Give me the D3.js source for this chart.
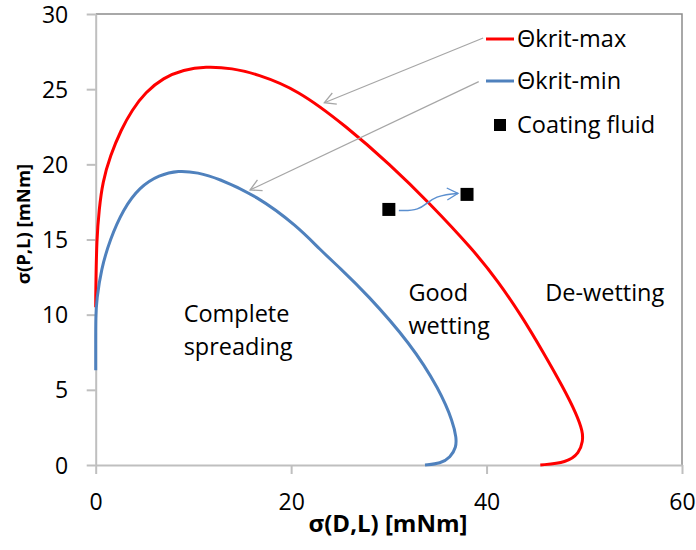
<!DOCTYPE html>
<html lang="en">
<head>
  <meta charset="UTF-8">
  <script src="https://d3js.org/d3.v7.min.js"></script>
  <title>Wetting envelope</title>
  <style>
  body {
      margin: 0;
      background: white;
  }
  svg text {
      font-family: "Open Sans", "Noto Sans", sans-serif;
      fill: #000;
  }
  .axis path, .axis line {
      stroke: #bfbfbf;
      stroke-width: 2;
  }
  .axis .tick text {
      font-size: 23px;
  }
  .region {
      font-size: 23.5px;
  }
  .legend text {
      font-size: 23.5px;
  }
  .title {
      font-weight: bold;
  }
  </style>
</head>
<body>

<svg id="chart" width="696" height="550"></svg>

<script>

  // values  (sigma D,L  /  sigma P,L  in mNm)
  const maxX = [0, 0, 0.02, 0.1, 0.35, 0.7, 1.5, 2.6, 3.7, 5.1, 6.9, 9.0, 11.2, 14, 16.5, 20.6, 25.7, 30.1, 34.2, 38.65, 41.2, 43.6, 45.8, 47.8, 49.2, 49.85, 49.85, 49.5, 48.2, 45.5];
  const maxY = [10.5, 11.2, 12, 15, 17, 18.8, 20.6, 22.3, 23.6, 24.8, 25.75, 26.3, 26.5, 26.4, 26, 25, 22.5, 20, 17.4, 14.3, 12.2, 9.9, 7.5, 5.2, 3.4, 2.2, 1.6, 0.8, 0.15, 0];

  const minX = [0, 0, 0, 0.1, 0.55, 1.46, 2.8, 4.5, 6.5, 8.45, 10.5, 12.4, 16.5, 20.6, 23.0, 25.0, 27.7, 32.2, 35.2, 36.6, 36.9, 36.9, 36.3, 35.3, 33.7];
  const minY = [6.3, 8.0, 9.9, 11, 13, 15, 17, 18.5, 19.3, 19.6, 19.45, 19.1, 17.9, 15.9, 14.3, 13.1, 11.4, 8.1, 5.0, 2.8, 1.8, 1.2, 0.5, 0.1, 0];

  const fluidX = [30, 38];
  const fluidY = [17, 18];

  const xTicks = [0, 20, 40, 60];
  const yTicks = [0, 5, 10, 15, 20, 25, 30];

  const seriesNames = ["\u0398krit-max", "\u0398krit-min", "Coating fluid"];
  const seriesColors = ["#ff0000", "#4f81bd", "#000000"];

  const regionLabels = [
    {lines: ["Complete", "spreading"], x: 9.0, y: 9.5},
    {lines: ["Good", "wetting"], x: 32.0, y: 10.9},
    {lines: ["De-wetting"], x: 46.0, y: 10.9}
  ];

  //chart area
  const svg = d3.select("svg#chart");
  const margin = {top: 14, right: 14, bottom: 85, left: 95.7};
  const width = +svg.attr("width");
  const height = +svg.attr("height");

  const xScale = d3.scaleLinear().domain([0, 60]).range([margin.left, width - margin.right]);
  const yScale = d3.scaleLinear().domain([0, 30]).range([height - margin.bottom, margin.top]);

  // plot frame (top and right)
  svg.append("path")
      .attr("d", `M${xScale(0)},${yScale(30)}H${xScale(60)}V${yScale(0)}`)
      .attr("fill", "none")
      .attr("stroke", "#8c8c8c")
      .attr("stroke-width", 1.5);

  // axes
  let yAxis = d3.axisLeft(yScale).tickValues(yTicks).tickSize(9).tickSizeOuter(0).tickPadding(18.5);
  let yAxisG = svg.append("g")
      .attr("class", "axis")
      .attr("transform", `translate(${xScale(0)},0)`)
      .call(yAxis);
  yAxisG.selectAll(".tick text").attr("dy", "0.35em");

  let xAxis = d3.axisBottom(xScale).tickValues(xTicks).tickSize(9).tickSizeOuter(0);
  let xAxisG = svg.append("g")
      .attr("class", "axis")
      .attr("transform", `translate(0,${yScale(0)})`)
      .call(xAxis);
  xAxisG.selectAll(".tick text").attr("y", 45).attr("dy", null);

  // axis titles
  svg.append("text")
      .attr("class", "title")
      .attr("x", 388)
      .attr("y", 532)
      .attr("text-anchor", "middle")
      .style("font-size", "24px")
      .text("\u03c3(D,L) [mNm]");

  svg.append("text")
      .attr("class", "title")
      .attr("transform", "translate(30,224) rotate(-90)")
      .attr("text-anchor", "middle")
      .style("font-size", "18.5px")
      .text("\u03c3(P,L) [mNm]");

  // envelope curves
  const line = d3.line()
      .x(d => xScale(d[0]))
      .y(d => yScale(d[1]))
      .curve(d3.curveBasis);

  const curves = [d3.zip(maxX, maxY), d3.zip(minX, minY)];

  svg.append("g").selectAll("path.curve")
      .data(curves)
      .join("path")
      .attr("class", "curve")
      .attr("d", d => line(d))
      .attr("fill", "none")
      .attr("stroke", (d, i) => seriesColors[i])
      .attr("stroke-width", 3);

  // region labels
  let labels = svg.append("g");
  regionLabels.forEach(r => {
    r.lines.forEach((t, i) => {
      labels.append("text")
          .attr("class", "region")
          .attr("x", xScale(r.x))
          .attr("y", yScale(r.y) + i * 33)
          .text(t);
    });
  });

  // arrowheads
  const defs = svg.append("defs");
  function arrowMarker(id, color) {
    defs.append("marker")
        .attr("id", id)
        .attr("viewBox", "-12 -8 14 16")
        .attr("markerWidth", 14)
        .attr("markerHeight", 16)
        .attr("markerUnits", "userSpaceOnUse")
        .attr("refX", 0)
        .attr("refY", 0)
        .attr("orient", "auto")
      .append("path")
        .attr("d", "M-11,-6L0,0L-11,6")
        .attr("fill", "none")
        .attr("stroke", color)
        .attr("stroke-width", 1.3);
  }
  arrowMarker("greyArrow", "#a6a6a6");
  arrowMarker("blueArrow", "#5b8fcf");

  // grey pointers from the legend to the curves
  const pointers = [
    {from: [39.65, 28.4], to: [23.4, 24.1]},
    {from: [39.2, 25.5], to: [15.8, 18.3]}
  ];
  svg.append("g").selectAll("line")
      .data(pointers)
      .join("line")
      .attr("x1", d => xScale(d.from[0]))
      .attr("y1", d => yScale(d.from[1]))
      .attr("x2", d => xScale(d.to[0]))
      .attr("y2", d => yScale(d.to[1]))
      .attr("stroke", "#a6a6a6")
      .attr("stroke-width", 1.2)
      .attr("marker-end", "url(#greyArrow)");

  // coating fluid arrow
  const ax0 = xScale(fluidX[0]) + 10, ay0 = yScale(fluidY[0]) + 1;
  const ax1 = xScale(fluidX[1]) - 9, ay1 = yScale(fluidY[1]) - 1;
  const bend = d3.path();
  bend.moveTo(ax0, ay0);
  bend.bezierCurveTo(ax0 + 35, ay0 + 2, (ax0 + ax1) / 2 - 10, ay1 + 2, ax1, ay1);
  svg.append("path")
      .attr("d", bend.toString())
      .attr("fill", "none")
      .attr("stroke", "#5b8fcf")
      .attr("stroke-width", 1.5)
      .attr("marker-end", "url(#blueArrow)");

  // coating fluid points
  svg.append("g").selectAll("rect")
      .data(d3.zip(fluidX, fluidY))
      .join("rect")
      .attr("x", d => xScale(d[0]) - 6.5)
      .attr("y", d => yScale(d[1]) - 6.5)
      .attr("width", 13)
      .attr("height", 13)
      .attr("fill", "#000");

  // legend
  let legend = svg.append("g").attr("class", "legend");
  const legendY = [39, 81, 125];
  seriesNames.forEach((name, i) => {
    if (i < 2) {
      legend.append("line")
          .attr("x1", 486).attr("x2", 514)
          .attr("y1", legendY[i]).attr("y2", legendY[i])
          .attr("stroke", seriesColors[i])
          .attr("stroke-width", 3);
    } else {
      legend.append("rect")
          .attr("x", 494).attr("y", legendY[i] - 6)
          .attr("width", 12).attr("height", 12)
          .attr("fill", seriesColors[i]);
    }
    legend.append("text")
        .attr("x", 517)
        .attr("y", legendY[i])
        .attr("dy", "0.35em")
        .text(name);
  });

</script>
</body>
</html>
